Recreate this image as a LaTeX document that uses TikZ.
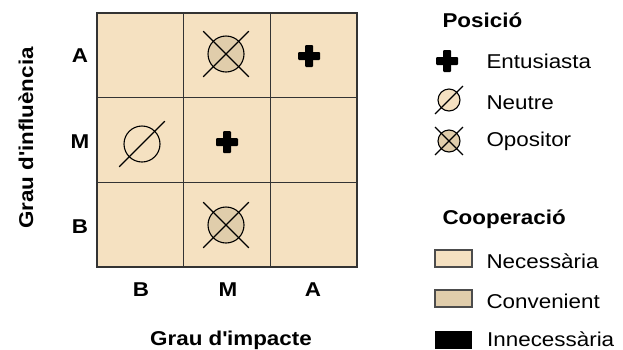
\documentclass[tikz,border=0pt]{standalone}
\usepackage{fontspec}
\setmainfont{Liberation Sans}[FakeStretch=1.12]
\usepackage{xcolor}
\usetikzlibrary{positioning,calc}

\definecolor{necessaria}{HTML}{F5E1C1}
\definecolor{convenient}{HTML}{E0CDAB}
\definecolor{vora}{HTML}{333333}

\tikzset{
  cel/.style={draw=vora, fill=necessaria, line width=1.2pt},
  eix/.style={font=\fontsize{20}{22}\selectfont\bfseries, anchor=base},
  txt/.style={font=\fontsize{20}{22}\selectfont, anchor=base west},
  capsa/.style={draw=black!70, line width=1.2pt},
}

% simbols de posicio
\newcommand{\creu}[3]{% nom, x, y
  \coordinate (#1) at (#2,#3);
  \fill[rounded corners=1pt] ($(#1)+(-11,-4)$) rectangle ($(#1)+(11,4)$);
  \fill[rounded corners=1pt] ($(#1)+(-4,-11)$) rectangle ($(#1)+(4,11)$);
}
\newcommand{\neutre}[5]{% nom, x, y, radi, farcit
  \node[circle, draw, fill=#5, line width=1.1pt, minimum size=2*#4 pt, inner sep=0pt] (#1) at (#2,#3) {};
  \draw[line width=1.1pt] ($(#1)+(-1.27*#4,1.27*#4)$) -- ($(#1)+(1.27*#4,-1.27*#4)$);
}
\newcommand{\opositor}[4]{% nom, x, y, radi
  \neutre{#1}{#2}{#3}{#4}{convenient}
  \draw[line width=1.1pt] ($(#1)+(-1.27*#4,-1.27*#4)$) -- ($(#1)+(1.27*#4,1.27*#4)$);
}

\begin{document}
\begin{tikzpicture}[x=1pt, y=-1pt]
\useasboundingbox (0,0) rectangle (623,349);

% matriu
\foreach \i in {0,1,2}
  \foreach \j in {0,1,2}
    \draw[cel] (97+\i*86.67,13+\j*84.67) rectangle ++(86.67,84.67);

\opositor{o1}{226}{54}{18}
\creu{e1}{309}{56}
\neutre{n1}{142}{144}{18}{necessaria}
\creu{e2}{227}{142}
\opositor{o2}{226}{225}{18}

% eixos
\node[eix] (fA) at (80,62) {A};
\node[eix] (fM) at (80,148) {M};
\node[eix] (fB) at (80,233) {B};
\node[eix] (cB) at (141,296) {B};
\node[eix] (cM) at (228,296) {M};
\node[eix] (cA) at (313,296) {A};
\node[eix] (impacte) at (231,345) {Grau d\textquotesingle impacte};
\node[eix, rotate=90] (influencia) at (33,138) {Grau d\textquotesingle influència};

% llegenda
\node[eix, anchor=base west] (posicio) at (439,27) {Posició};
\creu{le}{447}{61}
\node[txt] (tE) at (483,68) {Entusiasta};
\neutre{ln}{449}{100}{11}{necessaria}
\node[txt] (tN) at (483,109) {Neutre};
\opositor{lo}{449}{141}{11}
\node[txt] (tO) at (483,146) {Opositor};

\node[eix, anchor=base west] (cooperacio) at (439,224) {Cooperació};
\draw[capsa, fill=necessaria] (435,250) rectangle (472,267);
\node[txt] (tNe) at (483,268) {Necessària};
\draw[capsa, fill=convenient] (435,290) rectangle (472,307);
\node[txt] (tC) at (483,308) {Convenient};
\fill (435,331) rectangle (472,349);
\node[txt, inner sep=1pt] (tI) at (486,346) {Innecessària};
\end{tikzpicture}
\end{document}
